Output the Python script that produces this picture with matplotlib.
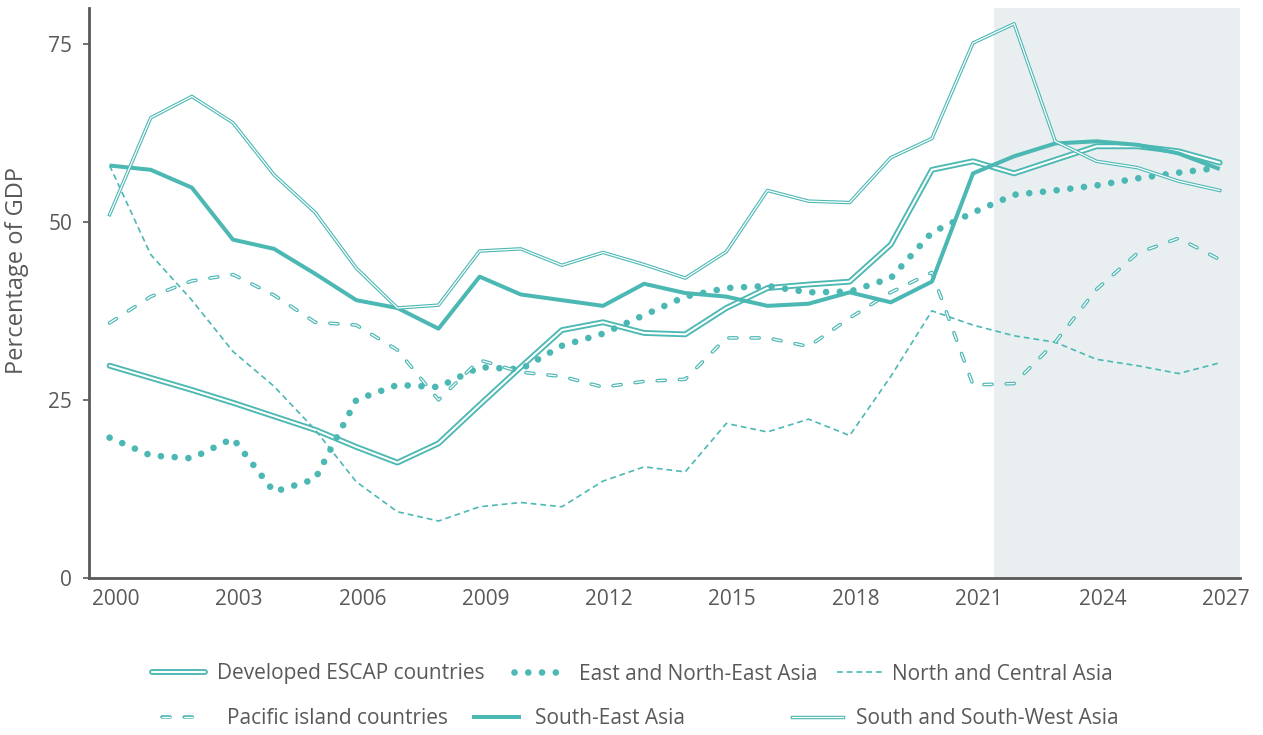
import matplotlib.pyplot as plt
from matplotlib.transforms import ScaledTranslation

plt.rcParams['font.family'] = ['Open Sans', 'DejaVu Sans']
plt.rcParams['lines.scale_dashes'] = False

# data (percentage of GDP)
years = list(range(2000, 2028))
developed = [29.8, 28.1, 26.4, 24.6, 22.7, 20.8, 18.4, 16.2, 18.9, 24.3, 29.6, 34.8, 35.9, 34.4,
             34.2, 37.9, 40.7, 41.2, 41.6, 46.8, 57.3, 58.5, 56.8, 58.7, 60.6, 60.6, 59.9, 58.3]
east_ne = [19.7, 17.2, 16.8, 19.6, 12.1, 13.9, 25.0, 27.1, 26.8, 29.6, 29.3, 32.6, 34.3, 36.9,
           39.5, 40.7, 41.0, 40.1, 40.2, 42.1, 48.5, 51.3, 53.8, 54.4, 55.1, 56.1, 56.9, 57.6]
north_central = [57.9, 45.4, 39.0, 31.8, 26.9, 20.8, 13.5, 9.3, 8.0, 10.0, 10.6, 10.0, 13.6, 15.6,
                 14.9, 21.7, 20.5, 22.3, 20.0, 28.3, 37.5, 35.5, 34.0, 33.1, 30.7, 29.8, 28.7, 30.2]
pacific = [35.8, 39.5, 41.7, 42.6, 39.7, 35.9, 35.5, 32.0, 25.0, 30.6, 28.9, 28.3, 26.8, 27.6,
           27.9, 33.7, 33.7, 32.5, 36.5, 40.1, 42.9, 27.1, 27.3, 33.1, 40.5, 45.6, 47.7, 44.7]
south_east = [57.9, 57.3, 54.8, 47.5, 46.2, 42.7, 39.0, 37.9, 35.0, 42.3, 39.8, 39.0, 38.2, 41.3,
              40.0, 39.5, 38.2, 38.5, 40.1, 38.7, 41.6, 56.8, 59.2, 61.0, 61.3, 60.8, 59.6, 57.4]
south_sw = [51.0, 64.6, 67.6, 63.9, 56.6, 51.3, 43.5, 37.9, 38.3, 45.9, 46.2, 43.9, 45.7, 44.0,
            42.1, 45.8, 54.4, 52.9, 52.7, 59.0, 61.7, 75.1, 77.8, 61.3, 58.5, 57.6, 55.7, 54.4]
xticks = list(range(2000, 2028, 3))
yticks = [0, 25, 50, 75]
forecast_start = 2021.5

TEAL = '#4cb8b4'
GREY = '#595959'

fig = plt.figure(figsize=(12.63, 7.35), dpi=100)
ax = fig.add_axes([0.0705, 0.2136, 0.9115, 0.7754])

ax.axvspan(forecast_start, 2027.5, color='#e9eff1', lw=0, zorder=0)

# each style: layers drawn on top of each other (double lines = teal + white core)
styles = {
    'Developed ESCAP countries': [dict(color=TEAL, lw=4.2, solid_capstyle='round'),
                                  dict(color='white', lw=1.5, solid_capstyle='round')],
    'East and North-East Asia': [dict(color=TEAL, lw=4.8, dashes=(0.01, 9.9), dash_capstyle='round')],
    'North and Central Asia': [dict(color=TEAL, lw=1.2, dashes=(4.2, 2.8))],
    'Pacific island countries': [dict(color=TEAL, lw=2.6, dashes=(5.8, 10.2), dash_capstyle='round'),
                                 dict(color='white', lw=0.9, dashes=(5.8, 10.2), dash_capstyle='round')],
    'South-East Asia': [dict(color=TEAL, lw=2.9, solid_capstyle='butt')],
    'South and South-West Asia': [dict(color=TEAL, lw=2.5), dict(color='white', lw=0.9)],
}
series = {
    'Developed ESCAP countries': developed,
    'East and North-East Asia': east_ne,
    'North and Central Asia': north_central,
    'Pacific island countries': pacific,
    'South-East Asia': south_east,
    'South and South-West Asia': south_sw,
}

handles = {}
for name, vals in series.items():
    hs = []
    for layer in styles[name]:
        ln, = ax.plot(years, vals, zorder=3, **layer)
        hs.append(ln)
    handles[name] = tuple(hs)

ax.set_xlim(1999.5, 2027.5)
ax.set_ylim(0, 80)
ax.set_xticks(xticks)
ax.set_yticks(yticks)
ax.tick_params(axis='x', length=0, pad=8, labelsize=15, labelcolor=GREY)
ax.tick_params(axis='y', length=4, width=1.2, color=GREY, pad=8, labelsize=15, labelcolor=GREY)
for lab in ax.get_xticklabels():
    lab.set_transform(lab.get_transform() + ScaledTranslation(0.06, 0, fig.dpi_scale_trans))
ax.set_ylabel('Percentage of GDP', fontsize=17, color=GREY)
ax.yaxis.set_label_coords(-0.052, 0.54)
for s in ['top', 'right']:
    ax.spines[s].set_visible(False)
for s in ['left', 'bottom']:
    ax.spines[s].set_color(GREY)
    ax.spines[s].set_linewidth(2)

# legend entries placed individually like the reference (pixel positions)
legend_pos = [
    ('Developed ESCAP countries', 152, 674, 2.55, 0.58),
    ('East and North-East Asia', 514, 674, 2.36, 0.77),
    ('North and Central Asia', 837, 674, 2.16, 0.5),
    ('Pacific island countries', 162, 719, 1.87, 1.25),
    ('South-East Asia', 472, 719, 2.36, 0.67),
    ('South and South-West Asia', 792, 719, 2.45, 0.62),
]
W, H = 1263, 735
for name, px, py, hl, tp in legend_pos:
    fig.legend([handles[name]], [name], loc='center left',
               bbox_to_anchor=(px / W, 1 - py / H), frameon=False,
               borderpad=0, borderaxespad=0, handlelength=hl, handletextpad=tp,
               fontsize=15, labelcolor=GREY)

fig.savefig('out.png', dpi=100)
